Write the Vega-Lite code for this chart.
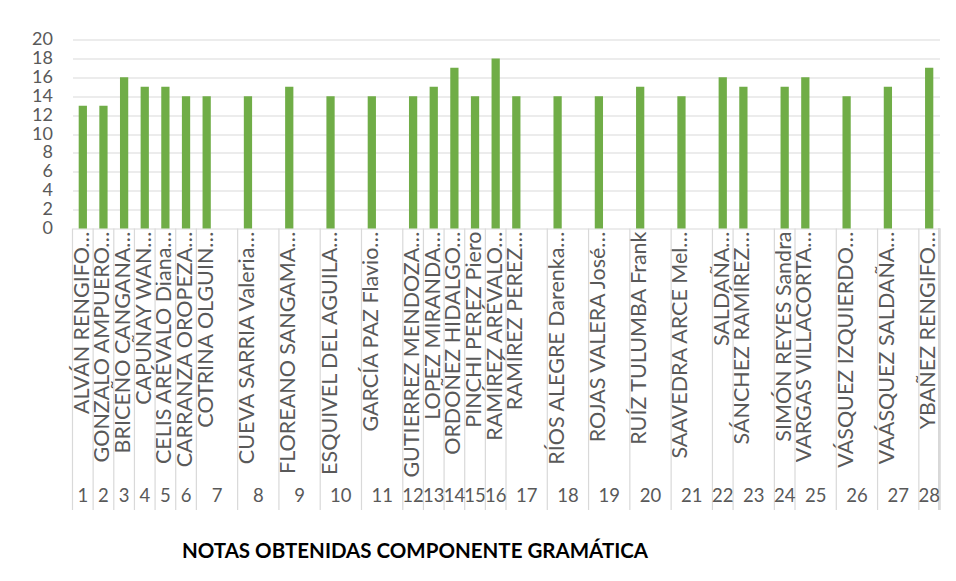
{
  "$schema": "https://vega.github.io/schema/vega-lite/v6.json",
  "autosize": "none",
  "width": 867,
  "height": 189,
  "padding": {"left": 72.5, "top": 39.5, "right": 16.5, "bottom": 352.5},
  "background": "white",
  "config": {
    "view": {"stroke": null},
    "font": "Lato",
    "axisY": {
      "grid": true,
      "gridColor": "#D9D9D9",
      "gridWidth": 1.2,
      "domain": false,
      "ticks": false,
      "labelFont": "Lato",
      "labelFontSize": 18,
      "labelColor": "#595959",
      "labelPadding": 20,
      "labelOverlap": false
    }
  },
  "title": {
    "text": "NOTAS OBTENIDAS COMPONENTE GRAMÁTICA",
    "orient": "bottom",
    "anchor": "middle",
    "frame": "group",
    "dx": -91,
    "offset": 31,
    "font": "Lato",
    "fontSize": 20.5,
    "fontWeight": "bold",
    "color": "#000000"
  },
  "datasets": {
    "slots": [
      {"slot": 0, "group": 1, "name": "ALVÁN RENGIFO…", "score": 13},
      {"slot": 1, "group": 2, "name": "GONZALO AMPUERO…", "score": 13},
      {"slot": 2, "group": 3, "name": "BRICEÑO CANGANA…", "score": 16},
      {"slot": 3, "group": 4, "name": "CAPUÑAY WAN…", "score": 15},
      {"slot": 4, "group": 5, "name": "CELIS ARÉVALO Diana…", "score": 15},
      {"slot": 5, "group": 6, "name": "CARRANZA OROPEZA…", "score": 14},
      {"slot": 6, "group": 7, "name": "COTRINA OLGUIN…", "score": 14},
      {"slot": 7, "group": 7, "name": "", "score": null},
      {"slot": 8, "group": 8, "name": "CUEVA SARRIA Valeria…", "score": 14},
      {"slot": 9, "group": 8, "name": "", "score": null},
      {"slot": 10, "group": 9, "name": "FLOREANO SANGAMA…", "score": 15},
      {"slot": 11, "group": 9, "name": "", "score": null},
      {"slot": 12, "group": 10, "name": "ESQUIVEL DEL AGUILA…", "score": 14},
      {"slot": 13, "group": 10, "name": "", "score": null},
      {"slot": 14, "group": 11, "name": "GARCÍA PAZ Flavio…", "score": 14},
      {"slot": 15, "group": 11, "name": "", "score": null},
      {"slot": 16, "group": 12, "name": "GUTIERREZ MENDOZA…", "score": 14},
      {"slot": 17, "group": 13, "name": "LOPEZ MIRANDA…", "score": 15},
      {"slot": 18, "group": 14, "name": "ORDOÑEZ HIDALGO…", "score": 17},
      {"slot": 19, "group": 15, "name": "PINCHI PEREZ Piero", "score": 14},
      {"slot": 20, "group": 16, "name": "RAMÍREZ ARÉVALO…", "score": 18},
      {"slot": 21, "group": 17, "name": "RAMÍREZ PEREZ…", "score": 14},
      {"slot": 22, "group": 17, "name": "", "score": null},
      {"slot": 23, "group": 18, "name": "RÍOS ALEGRE Darenka…", "score": 14},
      {"slot": 24, "group": 18, "name": "", "score": null},
      {"slot": 25, "group": 19, "name": "ROJAS VALERA José…", "score": 14},
      {"slot": 26, "group": 19, "name": "", "score": null},
      {"slot": 27, "group": 20, "name": "RUÍZ TULUMBA Frank", "score": 15},
      {"slot": 28, "group": 20, "name": "", "score": null},
      {"slot": 29, "group": 21, "name": "SAAVEDRA ARCE Mel…", "score": 14},
      {"slot": 30, "group": 21, "name": "", "score": null},
      {"slot": 31, "group": 22, "name": "SALDAÑA…", "score": 16},
      {"slot": 32, "group": 23, "name": "SÁNCHEZ RAMÍREZ…", "score": 15},
      {"slot": 33, "group": 23, "name": "", "score": null},
      {"slot": 34, "group": 24, "name": "SIMÓN REYES Sandra", "score": 15},
      {"slot": 35, "group": 25, "name": "VARGAS VILLACORTA…", "score": 16},
      {"slot": 36, "group": 25, "name": "", "score": null},
      {"slot": 37, "group": 26, "name": "VÁSQUEZ IZQUIERDO…", "score": 14},
      {"slot": 38, "group": 26, "name": "", "score": null},
      {"slot": 39, "group": 27, "name": "VAÁSQUEZ SALDAÑA…", "score": 15},
      {"slot": 40, "group": 27, "name": "", "score": null},
      {"slot": 41, "group": 28, "name": "YBAÑEZ RENGIFO…", "score": 17}
    ],
    "groups": [
      {"group": 1, "first": 0, "span": 1},
      {"group": 2, "first": 1, "span": 1},
      {"group": 3, "first": 2, "span": 1},
      {"group": 4, "first": 3, "span": 1},
      {"group": 5, "first": 4, "span": 1},
      {"group": 6, "first": 5, "span": 1},
      {"group": 7, "first": 6, "span": 2},
      {"group": 8, "first": 8, "span": 2},
      {"group": 9, "first": 10, "span": 2},
      {"group": 10, "first": 12, "span": 2},
      {"group": 11, "first": 14, "span": 2},
      {"group": 12, "first": 16, "span": 1},
      {"group": 13, "first": 17, "span": 1},
      {"group": 14, "first": 18, "span": 1},
      {"group": 15, "first": 19, "span": 1},
      {"group": 16, "first": 20, "span": 1},
      {"group": 17, "first": 21, "span": 2},
      {"group": 18, "first": 23, "span": 2},
      {"group": 19, "first": 25, "span": 2},
      {"group": 20, "first": 27, "span": 2},
      {"group": 21, "first": 29, "span": 2},
      {"group": 22, "first": 31, "span": 1},
      {"group": 23, "first": 32, "span": 2},
      {"group": 24, "first": 34, "span": 1},
      {"group": 25, "first": 35, "span": 2},
      {"group": 26, "first": 37, "span": 2},
      {"group": 27, "first": 39, "span": 2},
      {"group": 28, "first": 41, "span": 1}
    ]
  },
  "encoding": {
    "x": {
      "type": "ordinal",
      "scale": {
        "domain": [0,1,2,3,4,5,6,7,8,9,10,11,12,13,14,15,16,17,18,19,20,21,22,23,24,25,26,27,28,29,30,31,32,33,34,35,36,37,38,39,40,41],
        "paddingInner": 0,
        "paddingOuter": 0
      },
      "axis": null
    }
  },
  "layer": [
    {
      "data": {"name": "slots"},
      "mark": {"type": "bar", "width": {"band": 0.4}, "color": "#70AD47"},
      "encoding": {
        "x": {"field": "slot", "type": "ordinal"},
        "y": {
          "field": "score",
          "type": "quantitative",
          "scale": {"domain": [0, 20]},
          "axis": {"values": [0, 2, 4, 6, 8, 10, 12, 14, 16, 18, 20], "title": null}
        }
      }
    },
    {
      "data": {"name": "slots"},
      "mark": {"type": "text", "angle": 270, "align": "right", "baseline": "middle", "dx": -3, "font": "Lato", "fontSize": 21.5, "color": "#595959"},
      "encoding": {
        "x": {"field": "slot", "type": "ordinal"},
        "y": {"datum": 0, "type": "quantitative", "axis": {"values": [0, 2, 4, 6, 8, 10, 12, 14, 16, 18, 20], "title": null}},
        "text": {"field": "name"}
      }
    },
    {
      "data": {"name": "groups"},
      "mark": {"type": "rule", "color": "#D9D9D9", "strokeWidth": 1.2},
      "encoding": {
        "x": {"field": "first", "type": "ordinal", "bandPosition": 0},
        "y": {"datum": 0, "type": "quantitative", "axis": {"values": [0, 2, 4, 6, 8, 10, 12, 14, 16, 18, 20], "title": null}},
        "y2": {"datum": -29.8}
      }
    },
    {
      "data": {"name": "groups"},
      "mark": {"type": "rule", "color": "#D9D9D9", "strokeWidth": 1.2},
      "encoding": {
        "x": {"datum": 41, "type": "ordinal", "bandPosition": 1},
        "y": {"datum": 0, "type": "quantitative", "axis": {"values": [0, 2, 4, 6, 8, 10, 12, 14, 16, 18, 20], "title": null}},
        "y2": {"datum": -29.8}
      }
    },
    {
      "data": {"name": "groups"},
      "transform": [{"filter": "datum.span == 1"}],
      "mark": {"type": "text", "align": "center", "baseline": "alphabetic", "font": "Lato", "fontSize": 18.5, "color": "#595959"},
      "encoding": {
        "x": {"field": "first", "type": "ordinal", "bandPosition": 0.5},
        "y": {"datum": -28.94, "type": "quantitative", "axis": {"values": [0, 2, 4, 6, 8, 10, 12, 14, 16, 18, 20], "title": null}},
        "text": {"field": "group"}
      }
    },
    {
      "data": {"name": "groups"},
      "transform": [{"filter": "datum.span == 2"}],
      "mark": {"type": "text", "align": "center", "baseline": "alphabetic", "font": "Lato", "fontSize": 18.5, "color": "#595959"},
      "encoding": {
        "x": {"field": "first", "type": "ordinal", "bandPosition": 1},
        "y": {"datum": -28.94, "type": "quantitative", "axis": {"values": [0, 2, 4, 6, 8, 10, 12, 14, 16, 18, 20], "title": null}},
        "text": {"field": "group"}
      }
    }
  ]
}
